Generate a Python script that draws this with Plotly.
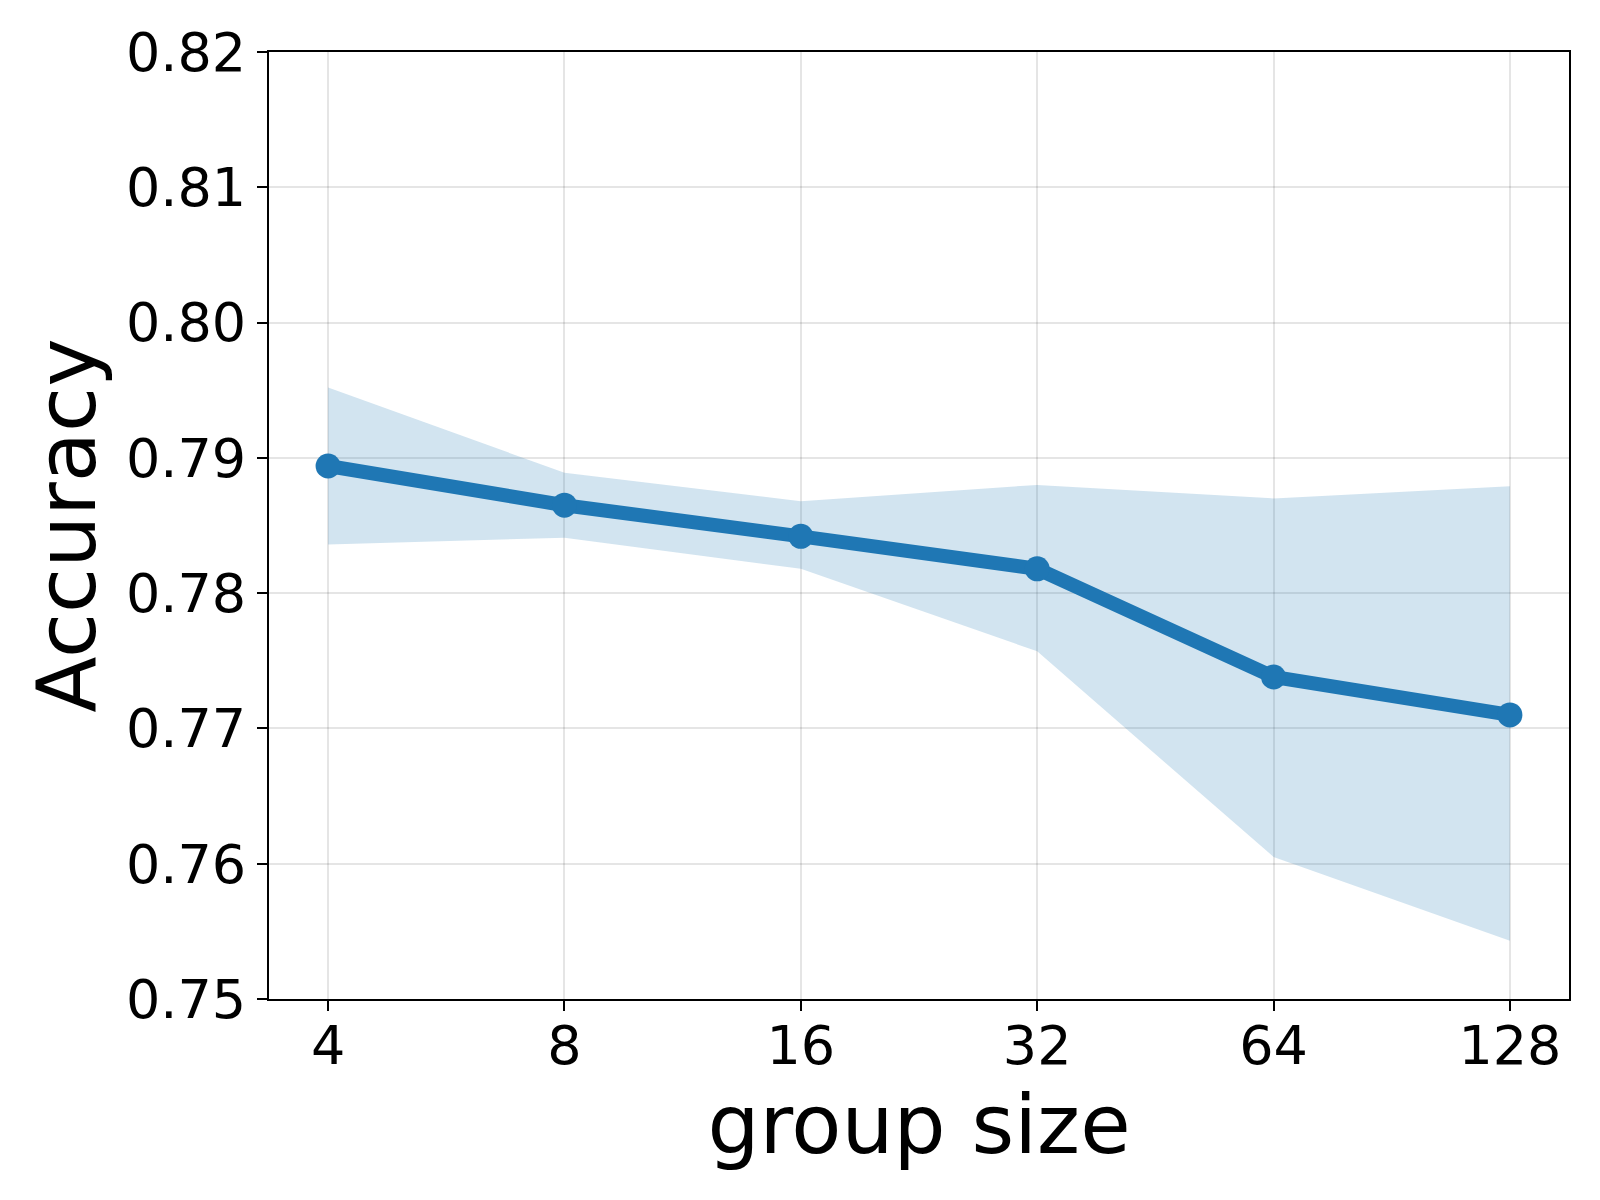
import plotly.graph_objects as go

group_sizes = ["4", "8", "16", "32", "64", "128"]
accuracy_mean = [0.7894, 0.7865, 0.7842, 0.7818, 0.7738, 0.7710]
accuracy_upper = [0.7952, 0.7889, 0.7868, 0.7880, 0.7870, 0.7879]
accuracy_lower = [0.7836, 0.7841, 0.7818, 0.7757, 0.7605, 0.7543]
y_ticks = [0.75, 0.76, 0.77, 0.78, 0.79, 0.80, 0.81, 0.82]

blue = "#1f77b4"
font_family = "DejaVu Sans"

fig = go.Figure()
fig.add_trace(go.Scatter(
    x=group_sizes, y=accuracy_upper, mode="lines",
    line=dict(width=0), showlegend=False, hoverinfo="skip"))
fig.add_trace(go.Scatter(
    x=group_sizes, y=accuracy_lower, mode="lines",
    line=dict(width=0), fill="tonexty", fillcolor="rgba(31,119,180,0.2)",
    showlegend=False, hoverinfo="skip"))
fig.add_trace(go.Scatter(
    x=group_sizes, y=accuracy_mean, mode="lines+markers",
    line=dict(color=blue, width=14), marker=dict(color=blue, size=25),
    showlegend=False))

fig.update_layout(
    width=1600, height=1200,
    margin=dict(l=269, r=31, t=52, b=201),
    paper_bgcolor="white", plot_bgcolor="white",
    font=dict(family=font_family, color="black", size=54),
)
fig.update_xaxes(
    type="category", range=[-0.25, 5.25],
    showline=True, linecolor="black", linewidth=2, mirror=True,
    ticks="outside", ticklen=10, tickwidth=2, tickcolor="black",
    ticklabelstandoff=-12,
    showgrid=True, gridcolor="rgba(0,0,0,0.1)", gridwidth=2,
    tickfont=dict(size=54, family=font_family),
    title=dict(text="group size", font=dict(size=82, family=font_family), standoff=14),
    zeroline=False,
)
fig.update_yaxes(
    range=[0.75, 0.82], tickvals=y_ticks, ticktext=[f"{v:.2f}" for v in y_ticks],
    showline=True, linecolor="black", linewidth=2, mirror=True,
    ticks="outside", ticklen=10, tickwidth=2, tickcolor="black",
    showgrid=True, gridcolor="rgba(0,0,0,0.1)", gridwidth=2,
    tickfont=dict(size=54, family=font_family),
    title=dict(text="Accuracy", font=dict(size=82, family=font_family), standoff=3),
    zeroline=False,
)

fig.write_html("out.html")
